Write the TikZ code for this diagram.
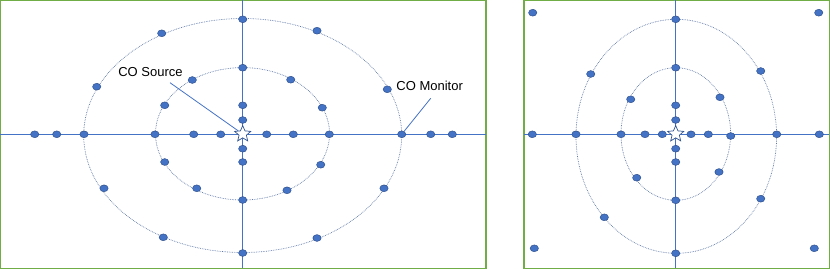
\documentclass[tikz,border=0pt]{standalone}
\usepackage{fontspec}
\setmainfont{Liberation Sans}
\usetikzlibrary{positioning,shapes.geometric}
\definecolor{axisBlue}{HTML}{4472C4}
\definecolor{dotEdge}{HTML}{2F528F}
\definecolor{ringGray}{HTML}{5E77A6}
\definecolor{panelGreen}{HTML}{70AD47}

\begin{document}
\begin{tikzpicture}[
  x=1pt, y=-1pt,
  every node/.style={font=\fontsize{13}{15}\selectfont},
  panel/.style={draw=panelGreen, line width=1.4pt},
  axisline/.style={draw=axisBlue, line width=1pt},
  ring/.style={draw=ringGray, line width=0.7pt, densely dotted},
  dot/.style={ellipse, fill=axisBlue, draw=dotEdge, line width=0.5pt,
             minimum width=8.3pt, minimum height=6.8pt, inner sep=0pt},
  source/.style={star, star points=5, star point ratio=2.2, fill=white,
             draw=dotEdge, line width=0.7pt, minimum size=17pt, inner sep=0pt},
  leader/.style={draw=axisBlue, line width=0.8pt},
]
\useasboundingbox (0,0) rectangle (830,269);

% Left panel: frame, axes, rings
\draw[panel] (0.7,0.7) rectangle (486,268.3);
\coordinate (lW) at (0,134.3);
\coordinate (lE) at (486,134.3);
\coordinate (lN) at (242.7,0);
\coordinate (lS) at (242.7,268);
\draw[axisline] (lW) -- (lE);
\draw[axisline] (lN) -- (lS);
\draw[ring] (242.7,135.5) ellipse [x radius=159, y radius=117];
\draw[ring] (242.5,133.8) ellipse [x radius=87, y radius=66.2];

% Left panel: monitors
\foreach \x [count=\i] in {34.7,56.7,84,155,193.7,220.7,266.7,293.3,329.3,401.7,430.7,452.3}
  \node[dot] (lh\i) at (\x,134.3) {};
\foreach \y [count=\i] in {19.3,67.7,105.3,120,148.7,162,200,253}
  \node[dot] (lv\i) at (242.7,\y) {};
\foreach \x/\y [count=\i] in {161.7/33.3, 96.7/86.7, 104/188.3, 163.3/237.3,
    317/30.7, 387.3/89.3, 384/188.3, 317/238,
    192.3/80, 164.7/105.3, 164.7/162, 196.7/188.3,
    290.7/79.7, 322.3/107.7, 320.7/164.7, 287/190.3}
  \node[dot] (lr\i) at (\x,\y) {};

\node[source] (lstar) at (242.7,134) {};

% Labels
\node (srcLabel) at (150.5,72) {CO Source};
\coordinate (srcTip) at (170,82.7);
\draw[leader] (srcTip) -- (lstar);
\node (monLabel) at (429.7,86) {CO Monitor};
\coordinate (monTip) at (430.7,98.3);
\draw[leader] (monTip) -- (lh10);

% Right panel: frame, axes, rings
\draw[panel] (524,0.7) rectangle (829.3,268.3);
\coordinate (rW) at (524,134.3);
\coordinate (rE) at (829.3,134.3);
\coordinate (rN) at (675.7,0);
\coordinate (rS) at (675.7,268);
\draw[axisline] (rW) -- (rE);
\draw[axisline] (rN) -- (rS);
\draw[ring] (676.3,136.3) ellipse [x radius=100.3, y radius=117];
\draw[ring] (675.8,134) ellipse [x radius=54.8, y radius=66.3];

% Right panel: monitors
\foreach \x/\y [count=\i] in {532.7/12.7, 818.7/12.7, 534.3/248.3, 814.3/248.3}
  \node[dot] (rc\i) at (\x,\y) {};
\foreach \x [count=\i] in {532.3,576,621,645,662.3,691,708.3,776.7,819.3}
  \node[dot] (rh\i) at (\x,134.3) {};
\node[dot] (rh10) at (730.7,136) {};
\foreach \y [count=\i] in {19.3,67.7,105.3,120,148.7,162,200.3,253.3}
  \node[dot] (rv\i) at (675.7,\y) {};
\foreach \x/\y [count=\i] in {590.7/74, 760.7/71, 604.3/217.3, 760.7/198.7,
    630.7/99.3, 720/97.3, 636.7/177.7, 719/172}
  \node[dot] (rr\i) at (\x,\y) {};

\node[source] (rstar) at (675.7,134) {};

\end{tikzpicture}
\end{document}
